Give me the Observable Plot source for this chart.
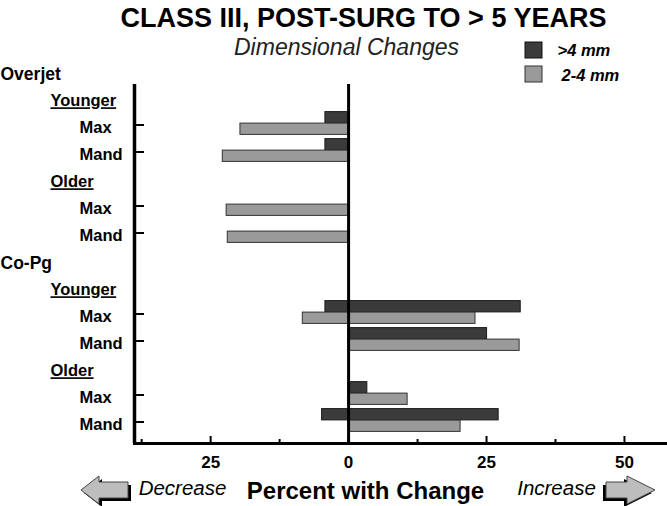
<!DOCTYPE html>
<html><head><meta charset="utf-8">
<script src="https://cdn.jsdelivr.net/npm/d3@7"></script>
<script src="https://cdn.jsdelivr.net/npm/@observablehq/plot@0.6"></script>
<style>body{margin:0;background:#fff} svg{display:block}</style>
</head><body><div id="chart"></div>
<script>
// ---- data ----
const rowKeys = ["OJ","OJ-Y","OJ-Y-Max","OJ-Y-Mand","OJ-O","OJ-O-Max","OJ-O-Mand","CP","CP-Y","CP-Y-Max","CP-Y-Mand","CP-O","CP-O-Max","CP-O-Mand"];
const rowLabels = ["Overjet","Younger","Max","Mand","Older","Max","Mand","Co-Pg","Younger","Max","Mand","Older","Max","Mand"];
const rowLevels = [0,1,2,2,1,2,2,0,1,2,2,1,2,2];
const categories = ["OJ-Y-Max","OJ-Y-Mand","OJ-O-Max","OJ-O-Mand","CP-Y-Max","CP-Y-Mand","CP-O-Max","CP-O-Mand"];
const seriesNames = [">4 mm","2-4 mm"];
const darkDecrease = [-4.2,-4.2,0,0,-4.2,0,0,-4.8];
const darkIncrease = [0,0,0,0,31.2,25.1,3.4,27.2];
const grayDecrease = [-19.6,-22.8,-22.1,-21.9,-8.3,0,0,0];
const grayIncrease = [0,0,0,0,23,31,10.7,20.3];
const xMajorTicks = [-25,0,25,50];
const xMinorTicks = [-37.5,-12.5,12.5,37.5];
const xDomain = [-38.8, 57.8];

// ---- layout ----
const W = 667, H = 506, mL = 134, mR = 0, mT = 84, mB = 63;
const plotW = W - mL - mR, plotH = H - mT - mB;
const FONT = "'Liberation Sans', Arial, Helvetica, sans-serif";
const DARK = "#3b3b3b", GRAY = "#9a9a9a";

const darkBars = categories.map((c,i)=>({cat:c, x1:darkDecrease[i], x2:darkIncrease[i]})).filter(d=>d.x1<d.x2);
const grayBars = categories.map((c,i)=>({cat:c, x1:grayDecrease[i], x2:grayIncrease[i]})).filter(d=>d.x1<d.x2);
const rows = rowKeys.map((k,i)=>({key:k, label:rowLabels[i], level:rowLevels[i]}));

function at(x, y, anchor="middle"){ return {frameAnchor:"top-left", dx: x - mL, dy: y - mT, textAnchor: anchor, lineAnchor:"middle"}; }

const chart = Plot.plot({
  width: W, height: H,
  marginLeft: mL, marginRight: mR, marginTop: mT, marginBottom: mB,
  style: {fontFamily: FONT, background: "#fff", overflow: "visible"},
  x: {domain: xDomain, axis: null},
  y: {type: "band", domain: rowKeys, range: [59.4, 439.5], padding: 0, axis: null},
  marks: [
    Plot.barX(darkBars, {x1:"x1", x2:"x2", y:"cat", fill: DARK, stroke:"#1a1a1a", strokeWidth:1, insetTop:9.1, insetBottom:6.6, dy:-11.5}),
    Plot.barX(grayBars, {x1:"x1", x2:"x2", y:"cat", fill: GRAY, stroke:"#333", strokeWidth:1, insetTop:9.1, insetBottom:6.6}),
    // zero line and left axis line
    Plot.ruleX([0], {stroke:"#000", strokeWidth:3}),
    Plot.ruleX([xDomain[0]], {stroke:"#000", strokeWidth:3.5}),
    Plot.frame({anchor:"bottom", stroke:"#000", strokeWidth:3}),
    // x ticks (pointing up into plot)
    Plot.ruleX(xMajorTicks, {stroke:"#000", strokeWidth:2, insetTop: plotH - 7}),
    Plot.ruleX(xMinorTicks, {stroke:"#000", strokeWidth:2, insetTop: plotH - 4}),
    Plot.text(xMajorTicks, {x: d=>d, text: d=>String(Math.abs(d)), frameAnchor:"bottom", lineAnchor:"middle", dy: 19, fontSize: 17, fontWeight:"bold", fill:"#000"}),
    // y ticks
    Plot.ruleY(categories, {y: d=>d, dy:-3, stroke:"#000", strokeWidth:2, insetRight: plotW - 10}),
    // y labels
    Plot.text(rows.filter(r=>r.level===0), {y:"key", text:"label", frameAnchor:"left", textAnchor:"start", dx: 0 - mL, fontSize:17.5, fontWeight:"bold", fill:"#000"}),
    Plot.text(rows.filter(r=>r.level===1), {y:"key", text:"label", frameAnchor:"left", textAnchor:"start", dx: 50 - mL, fontSize:16.5, fontWeight:"bold", fill:"#000"}),
    Plot.text(rows.filter(r=>r.level===2), {y:"key", text:"label", frameAnchor:"left", textAnchor:"start", dx: 79 - mL, fontSize:16.5, fontWeight:"bold", fill:"#000"}),
    // titles
    Plot.text(["CLASS III, POST-SURG TO > 5 YEARS"], {...at(363, 18), text: d=>d, fontSize: 27, fontWeight:"bold", fill:"#000"}),
    Plot.text(["Dimensional Changes"], {...at(346, 47), text: d=>d, fontSize: 23, fontStyle:"italic", fill:"#222"}),
    // legend text
    Plot.text([seriesNames[0]], {...at(557, 50, "start"), text: d=>d, fontSize:16.5, fontWeight:"bold", fontStyle:"italic", fill:"#000"}),
    Plot.text([seriesNames[1]], {...at(561, 75, "start"), text: d=>d, fontSize:16.5, fontWeight:"bold", fontStyle:"italic", fill:"#000"}),
    // bottom labels
    Plot.text(["Percent with Change"], {...at(365, 491), text: d=>d, fontSize: 24, fontWeight:"bold", fill:"#000"}),
    Plot.text(["Decrease"], {...at(182, 488), text: d=>d, fontSize: 20.5, fontStyle:"italic", fill:"#000"}),
    Plot.text(["Increase"], {...at(556, 488), text: d=>d, fontSize: 20.5, fontStyle:"italic", fill:"#000"})
  ]
});

document.getElementById("chart").appendChild(chart);
const svg = d3.select(chart);
svg.selectAll("text").filter(function(){ return this.textContent === "Younger" || this.textContent === "Older"; })
   .style("text-decoration","underline");

// legend swatches
const lg = svg.append("g");
lg.append("rect").attr("x",525).attr("y",42).attr("width",17).attr("height",16).attr("fill",DARK).attr("stroke","#111");
lg.append("rect").attr("x",525).attr("y",66).attr("width",17).attr("height",16).attr("fill",GRAY).attr("stroke","#333");

// block arrows
function arrowPath(tipX, baseX, endX, cy){
  return `M${tipX},${cy} L${baseX},${cy-14} L${baseX},${cy-8} L${endX},${cy-8} L${endX},${cy+8} L${baseX},${cy+8} L${baseX},${cy+14} Z`;
}
const ar = svg.append("g");
ar.append("path").attr("d", arrowPath(81,99,128,490)).attr("transform","translate(3,3)").attr("fill","#000");
ar.append("path").attr("d", arrowPath(81,99,128,490)).attr("fill","#bdbdbd").attr("stroke","#444").attr("stroke-width",1);
ar.append("path").attr("d", arrowPath(655,627,606,490)).attr("transform","translate(-3,3)").attr("fill","#000");
ar.append("path").attr("d", arrowPath(655,627,606,490)).attr("fill","#bdbdbd").attr("stroke","#444").attr("stroke-width",1);
</script>
</body></html>
